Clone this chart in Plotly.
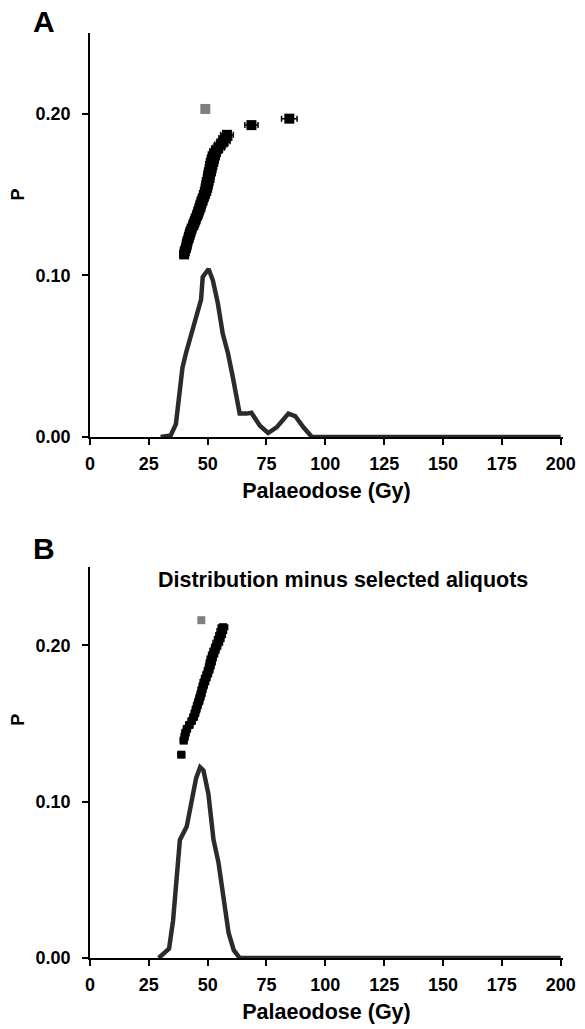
import plotly.graph_objects as go
from plotly.subplots import make_subplots

# ---- panel A: ranked aliquots (dose, P, error) ----
dose_a = [40.0, 40.3, 40.8, 41.1, 41.4, 41.9, 42.3, 42.7, 43.2, 43.9,
          44.4, 44.9, 45.5, 46.0, 46.5, 46.9, 47.4, 47.8, 48.4, 48.9,
          49.3, 49.6, 49.9, 50.2, 50.5, 50.8, 51.1, 51.4, 51.7, 52.0,
          52.4, 52.8, 53.5, 54.5, 55.6, 56.8, 57.5, 58.2, 68.6, 84.7]
p_a = [0.113, 0.115, 0.117, 0.119, 0.121, 0.123, 0.125, 0.127, 0.129, 0.131,
       0.133, 0.135, 0.137, 0.139, 0.141, 0.143, 0.145, 0.147, 0.149, 0.151,
       0.153, 0.155, 0.157, 0.159, 0.161, 0.163, 0.165, 0.167, 0.169, 0.171,
       0.173, 0.175, 0.177, 0.179, 0.181, 0.183, 0.185, 0.187, 0.193, 0.197]
err_a = [1.8, 1.8, 1.9, 1.8, 1.9, 1.9, 2.0, 2.0, 1.9, 2.0,
         2.1, 2.0, 2.1, 2.1, 2.2, 2.1, 2.2, 2.2, 2.2, 2.3,
         2.3, 2.3, 2.3, 2.4, 2.3, 2.4, 2.4, 2.4, 2.5, 2.5,
         2.5, 2.5, 2.5, 2.6, 2.6, 2.7, 2.7, 2.7, 2.8, 3.3]
mean_a = [49.0]
mean_p_a = [0.203]

# panel A probability curve
curve_dose_a = [30, 34.3, 36.5, 37.9, 39.3, 40.8, 42.9, 45.1, 47.2, 47.9,
                50.4, 52.2, 54.3, 56.4, 58.6, 60.7, 63.6, 66.5, 68.6, 72.2,
                75.7, 79.3, 84.3, 87.2, 90.7, 94.3, 200]
curve_p_a = [0, 0.001, 0.008, 0.025, 0.043, 0.052, 0.063, 0.072, 0.085, 0.099,
             0.104, 0.097, 0.083, 0.064, 0.052, 0.037, 0.0145, 0.0145, 0.015, 0.007,
             0.0025, 0.006, 0.0145, 0.013, 0.006, 0, 0]

# ---- panel B: distribution minus selected aliquots ----
dose_b = [38.8, 39.8, 40.2, 40.6, 41.2, 42.2, 43.2, 44.0, 44.6, 45.1,
          45.6, 46.2, 46.7, 47.2, 47.6, 48.1, 48.6, 49.2, 49.8, 50.4,
          50.9, 51.3, 51.7, 52.3, 52.9, 53.6, 54.3, 54.9, 55.5, 56.0, 56.5]
p_b = [0.130, 0.139, 0.1415, 0.144, 0.1465, 0.149, 0.1515, 0.154, 0.1565, 0.159,
       0.1615, 0.164, 0.1665, 0.169, 0.1715, 0.174, 0.1765, 0.179, 0.1815, 0.184,
       0.1865, 0.189, 0.1915, 0.194, 0.1965, 0.199, 0.2015, 0.204, 0.2065, 0.209, 0.2115]
err_b = [1.4, 1.4, 1.4, 1.5, 1.5, 1.5, 1.5, 1.6, 1.6, 1.6,
         1.6, 1.7, 1.7, 1.7, 1.7, 1.7, 1.8, 1.8, 1.8, 1.8,
         1.8, 1.9, 1.9, 1.9, 1.9, 1.9, 2.0, 2.0, 2.0, 2.0, 2.0]
mean_b = [47.3]
mean_p_b = [0.216]

curve_dose_b = [29.2, 33.6, 35.3, 36.8, 38.2, 41.1, 43.2, 45.1, 46.8, 48.2,
                50.3, 52.5, 54.6, 56.8, 58.9, 61.1, 63.6, 200]
curve_p_b = [0, 0.006, 0.024, 0.052, 0.0755, 0.084, 0.099, 0.115, 0.122, 0.120,
             0.105, 0.0755, 0.061, 0.039, 0.016, 0.005, 0, 0]

x_ticks = [0, 25, 50, 75, 100, 125, 150, 175, 200]
y_ticks = [0.0, 0.1, 0.2]

FONT = "Liberation Sans, Arial, sans-serif"
CURVE = "#2b2b2b"

fig = make_subplots(rows=2, cols=1, vertical_spacing=0.14)


def add_panel(row, dose, p, err, msize, mean_x, mean_y, cx, cy):
    fig.add_trace(go.Scatter(
        x=cx, y=cy, mode="lines",
        line=dict(color=CURVE, width=4.5),
        showlegend=False), row=row, col=1)
    fig.add_trace(go.Scatter(
        x=dose, y=p, mode="markers",
        marker=dict(symbol="square", size=msize, color="black"),
        error_x=dict(type="data", array=err, color="black", thickness=1.5, width=3),
        showlegend=False), row=row, col=1)
    fig.add_trace(go.Scatter(
        x=mean_x, y=mean_y, mode="markers",
        marker=dict(symbol="square", size=msize, color="#808080"),
        showlegend=False), row=row, col=1)


add_panel(1, dose_a, p_a, err_a, 10, mean_a, mean_p_a, curve_dose_a, curve_p_a)
add_panel(2, dose_b, p_b, err_b, 8, mean_b, mean_p_b, curve_dose_b, curve_p_b)

axis_style = dict(showgrid=False, zeroline=False, showline=True, linecolor="black",
                  linewidth=1.5, ticks="outside", ticklen=6, tickwidth=1.5,
                  tickcolor="black", automargin=False,
                  tickfont=dict(family=FONT, size=18, color="black", weight="bold"))

for r in (1, 2):
    fig.update_xaxes(range=[0, 201], tickvals=x_ticks, ticklabelstandoff=4,
                     title=dict(text="Palaeodose (Gy)",
                                font=dict(family=FONT, size=21.5, color="black", weight="bold"),
                                standoff=10),
                     row=r, col=1, **axis_style)
    fig.update_yaxes(range=[0, 0.25], tickvals=y_ticks, tickformat=".2f",
                     ticklabelstandoff=8, row=r, col=1, **axis_style)

fig.update_xaxes(domain=[0, 1])
fig.layout.yaxis.domain = [0.5632, 1.0]
fig.layout.yaxis2.domain = [0.0, 0.4227]

letter_font = dict(family=FONT, size=30, color="black", weight="bold")
label_font = dict(family=FONT, size=18, color="black", weight="bold")
notes = [
    ("A", -0.0977, 1.0119, 0, letter_font),
    ("B", -0.0977, 0.4432, 0, letter_font),
    ("P", -0.153, 0.8249, -90, label_font),
    ("P", -0.153, 0.2573, -90, label_font),
    ("Distribution minus selected aliquots", 0.535, 0.4086, 0,
     dict(family=FONT, size=21.5, color="black", weight="bold")),
]
for text, x, y, angle, font in notes:
    fig.add_annotation(text=text, x=x, y=y, xref="paper", yref="paper",
                       xanchor="center", yanchor="middle", showarrow=False,
                       textangle=angle, font=font)

fig.update_layout(
    width=585, height=1029,
    margin=dict(l=90, r=22, t=33, b=71),
    plot_bgcolor="white", paper_bgcolor="white",
    showlegend=False,
)

fig.write_html("out.html", config={"displayModeBar": False},
               post_script="document.body.style.margin = '0';")
